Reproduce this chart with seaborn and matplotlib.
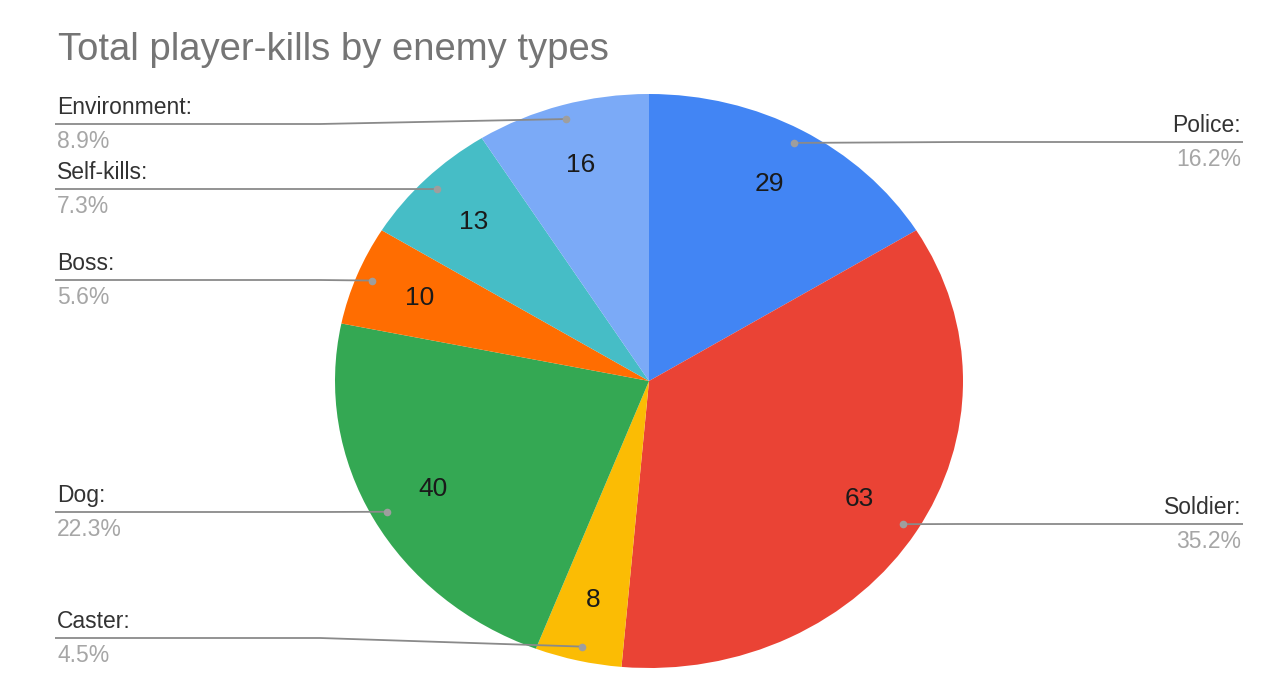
import matplotlib
matplotlib.use("Agg")
from matplotlib import pyplot as plt
import numpy as np
import seaborn as sns

categories = ["Police", "Soldier", "Caster", "Dog", "Boss", "Self-kills", "Environment"]
kills = [29, 63, 8, 40, 10, 13, 16]
colors = ["#4285F4", "#EA4335", "#FBBC04", "#34A853", "#FF6D01", "#46BDC6", "#7BAAF7"]

# where each label line sits (pixels from top) and on which side
label_y = [142, 524, 638, 512, 280, 189, 124]
label_side = ["right", "right", "left", "left", "left", "left", "left"]

W, H = 1280, 700
CX, CY, RX, RY = 649, 381, 314, 287   # pie centre and radii in pixels


def to_data(x, y):
    return (x - CX) / RX, (CY - y) / RY


sns.set_theme(style="white")
plt.rcParams['font.family'] = ['Liberation Sans', 'DejaVu Sans']

fig = plt.figure(figsize=(12.8, 7.0), dpi=100)
fig.patch.set_facecolor("white")
ax = fig.add_axes([0, 0, 1, 1])

total = sum(kills)
wedges, _, autotexts = ax.pie(
    kills, colors=colors, startangle=90, counterclock=False,
    autopct=lambda p: f"{p * total / 100:.0f}", pctdistance=0.785,
    textprops=dict(fontsize=19, color="#1a1a1a"),
    wedgeprops=dict(linewidth=0))

ax.set_aspect("auto")
ax.set_xlim(to_data(0, 0)[0], to_data(W, 0)[0])
ax.set_ylim(to_data(0, H)[1], to_data(0, 0)[1])
ax.axis("off")

# leader lines + labels
for w, name, val, ly, side in zip(wedges, categories, kills, label_y, label_side):
    mid = np.deg2rad((w.theta1 + w.theta2) / 2)
    dx, dy = 0.95 * np.cos(mid), 0.95 * np.sin(mid)
    if side == "left":
        pts = [to_data(55, ly), to_data(320, ly), (dx, dy)]
        tx, ha = to_data(57, 0)[0], "left"
    else:
        pts = [(dx, dy), to_data(960, ly), to_data(1243, ly)]
        tx, ha = to_data(1241, 0)[0], "right"
    xs, ys = zip(*pts)
    ax.plot(xs, ys, color="#8a8a8a", lw=1.3, solid_capstyle="butt")
    ax.plot([dx], [dy], "o", color="#9e9e9e", ms=5.5, mec="none")
    ax.text(tx, to_data(0, ly - 10)[1], f"{name}:", ha=ha, va="baseline",
            fontsize=16.5, color="#333333")
    ax.text(tx, to_data(0, ly + 6)[1], f"{val / total * 100:.1f}%", ha=ha, va="top",
            fontsize=16.5, color="#a6a6a6")

fig.text(58 / W, 1 - 60 / H, "Total player-kills by enemy types", ha="left",
         va="baseline", fontsize=27.5, color="#757575")

plt.savefig("out.png", dpi=100, facecolor="white")
